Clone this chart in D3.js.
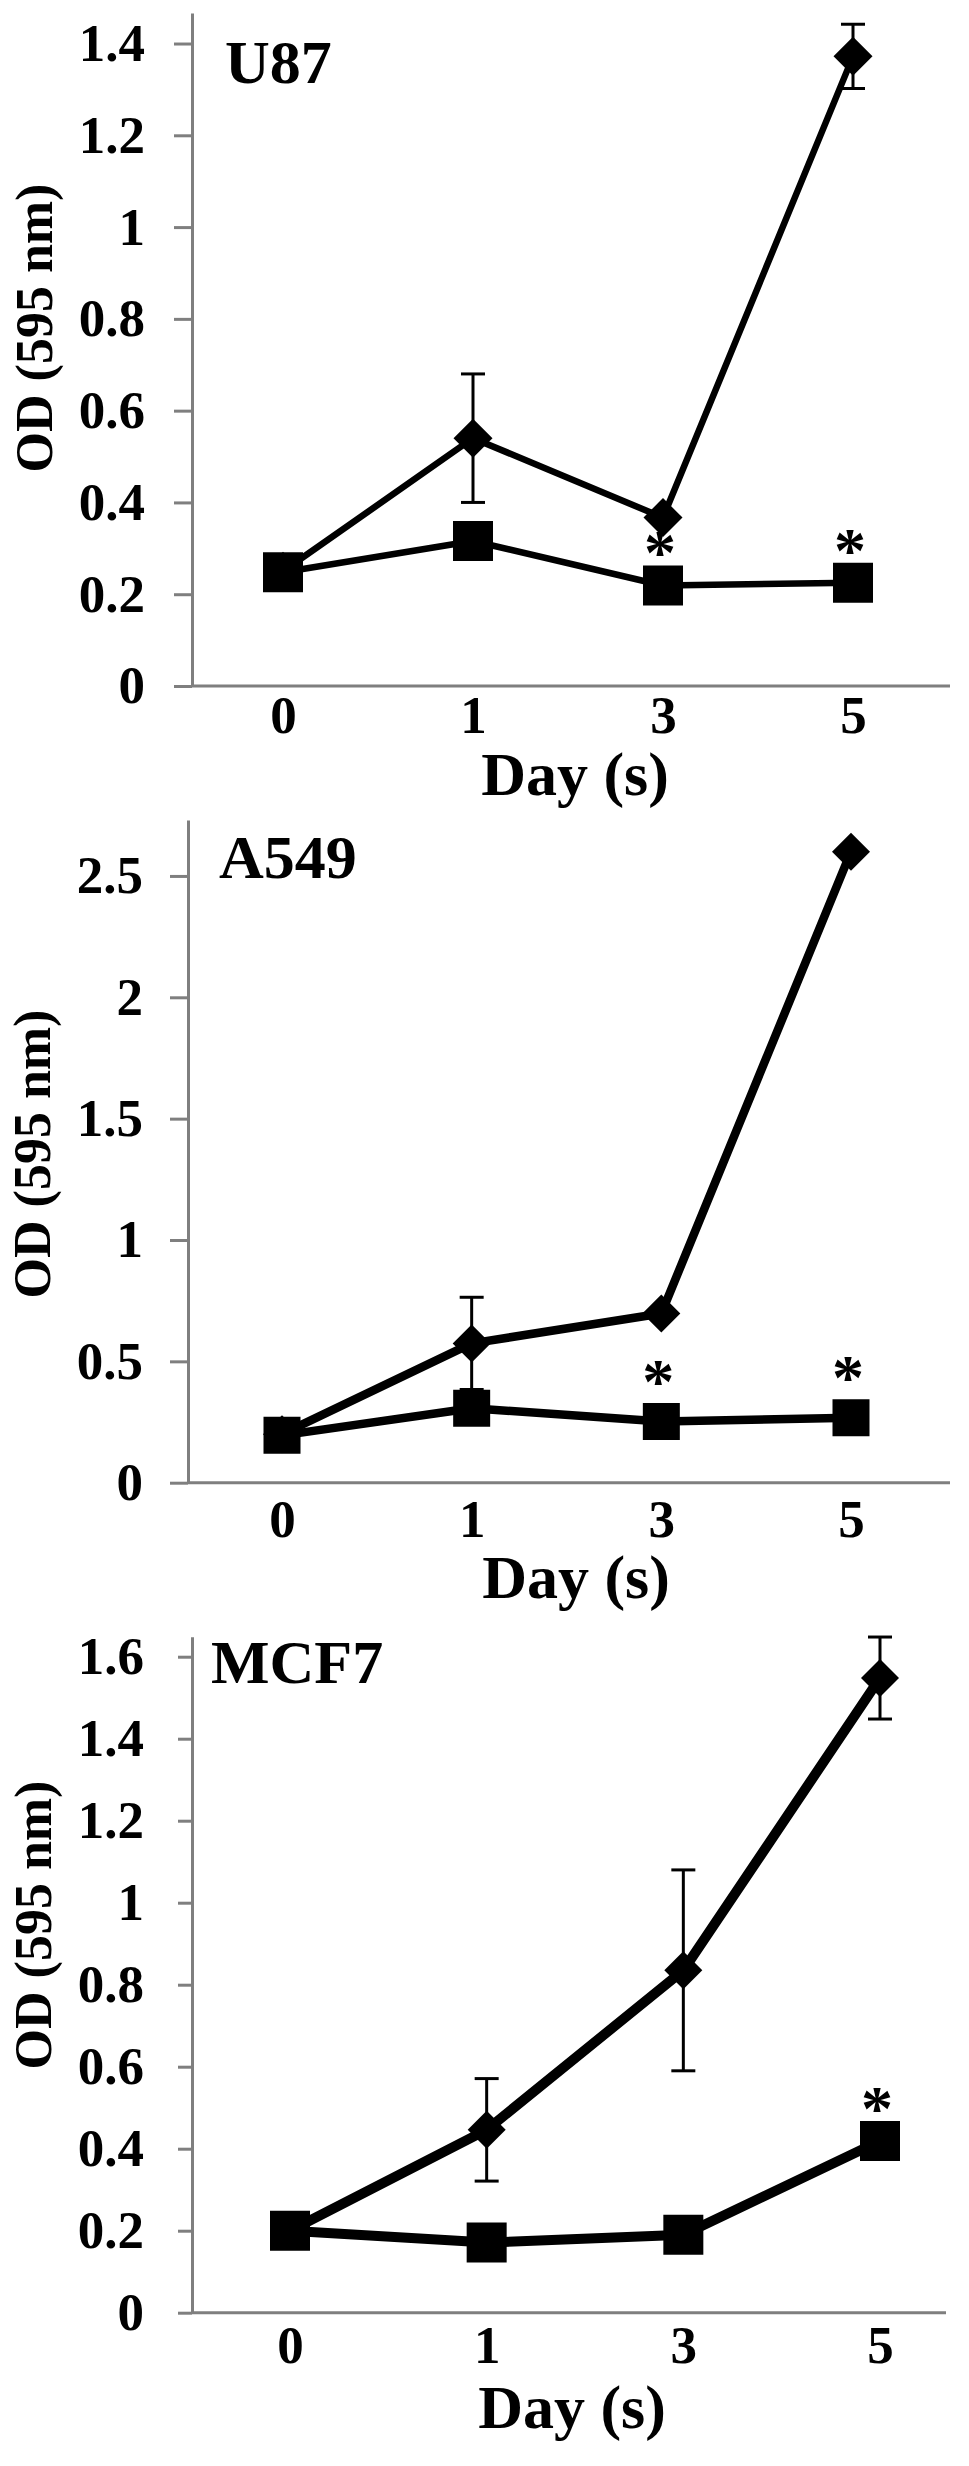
<!DOCTYPE html>
<html>
<head>
<meta charset="utf-8">
<script src="https://cdn.jsdelivr.net/npm/d3@7"></script>
<style>
    body { margin: 0; background: #fff; }
    svg { display: block; }
    text { font-family: "Liberation Serif", "Times New Roman", serif; font-weight: bold; fill: #000; }
</style>
</head>
<body>
<script>
// x categories (days)
const days = ["0", "1", "3", "5"];

// U87
const u87Ticks = [0, 0.2, 0.4, 0.6, 0.8, 1, 1.2, 1.4];
const u87Diamond = [0.25, 0.54, 0.367, 1.372];
const u87DiamondErr = [0, 0.14, 0, 0.07];
const u87Square = [0.248, 0.316, 0.219, 0.225];
const u87Stars = ["3", "5"];

// A549
const a549Ticks = [0, 0.5, 1, 1.5, 2, 2.5];
const a549Diamond = [0.2, 0.574, 0.697, 2.6];
const a549DiamondErr = [0, 0.19, 0, 0];
const a549Square = [0.195, 0.307, 0.252, 0.268];
const a549Stars = ["3", "5"];

// MCF7
const mcf7Ticks = [0, 0.2, 0.4, 0.6, 0.8, 1, 1.2, 1.4, 1.6];
const mcf7Diamond = [0.2, 0.446, 0.835, 1.548];
const mcf7DiamondErr = [0, 0.125, 0.245, 0.1];
const mcf7Square = [0.2, 0.171, 0.19, 0.419];
const mcf7Stars = ["5"];

const width = 969;
const height = 2466;
const axisColor = "#7f7f7f";

const svg = d3.select("body").append("svg")
    .attr("width", width)
    .attr("height", height);

// panel layout (pixel placement only)
const panels = [
    {
        name: "U87", ticks: u87Ticks, yMax: 1.4665,
        diamond: u87Diamond, err: u87DiamondErr, square: u87Square, stars: u87Stars,
        axisX: 192, yBottom: 686, yTop: 13, xFirst: 283, xLast: 853, xEnd: 950,
        tickLen: 18, tickPad: 29, xPad: 9, lineW: 6.5, sq: 40, dia: 39, starGap: 42,
        nameX: 225, nameY: 83, ylabX: 52, ylabY: 328, titleX: 575, titleY: 795
    },
    {
        name: "A549", ticks: a549Ticks, yMax: 2.7305,
        diamond: a549Diamond, err: a549DiamondErr, square: a549Square, stars: a549Stars,
        axisX: 188, yBottom: 1482.7, yTop: 820, xFirst: 282, xLast: 851, xEnd: 950,
        tickLen: 18, tickPad: 27, xPad: 17, lineW: 8.5, sq: 37, dia: 38, starGap: 50,
        nameX: 219, nameY: 878, ylabX: 50, ylabY: 1154, titleX: 576, titleY: 1598
    },
    {
        name: "MCF7", ticks: mcf7Ticks, yMax: 1.6488,
        diamond: mcf7Diamond, err: mcf7DiamondErr, square: mcf7Square, stars: mcf7Stars,
        axisX: 192, yBottom: 2312.7, yTop: 1636.7, xFirst: 290, xLast: 880, xEnd: 946,
        tickLen: 14, tickPad: 34, xPad: 13, lineW: 10, sq: 40, dia: 38, starGap: 42,
        nameX: 211, nameY: 1683, ylabX: 51, ylabY: 1925, titleX: 572, titleY: 2428
    }
];

function drawPanel(p) {
    const g = svg.append("g");

    const x = d3.scalePoint().domain(days).range([p.xFirst, p.xLast]);
    const y = d3.scaleLinear().domain([0, p.yMax]).range([p.yBottom, p.yTop]);

    // y axis
    const yAxis = g.append("g")
        .attr("transform", `translate(${p.axisX},0)`)
        .call(d3.axisLeft(y)
            .tickValues(p.ticks)
            .tickSize(p.tickLen)
            .tickSizeOuter(0)
            .tickPadding(p.tickPad)
            .tickFormat(d => String(+d.toFixed(1))));
    yAxis.select(".domain").attr("stroke", axisColor).attr("stroke-width", 3);
    yAxis.selectAll(".tick line").attr("stroke", axisColor).attr("stroke-width", 3);
    yAxis.selectAll(".tick text")
        .attr("fill", "#000")
        .style("font-size", "53px")
        .style("font-family", "'Liberation Serif', 'Times New Roman', serif")
        .style("font-weight", "bold");

    // x axis: labels only, line drawn separately
    const xAxis = g.append("g")
        .attr("transform", `translate(0,${p.yBottom})`)
        .call(d3.axisBottom(x).tickSize(0).tickPadding(p.xPad));
    xAxis.select(".domain").remove();
    xAxis.selectAll(".tick text")
        .attr("fill", "#000")
        .style("font-size", "53px")
        .style("font-family", "'Liberation Serif', 'Times New Roman', serif")
        .style("font-weight", "bold");

    g.append("line")
        .attr("x1", p.axisX).attr("x2", p.xEnd)
        .attr("y1", p.yBottom).attr("y2", p.yBottom)
        .attr("stroke", axisColor).attr("stroke-width", 3);

    const diamondData = days.map((d, i) => ({day: d, v: p.diamond[i], e: p.err[i]}));
    const squareData = days.map((d, i) => ({day: d, v: p.square[i]}));

    // error bars
    const eb = g.append("g").attr("stroke", "#000").attr("stroke-width", 3);
    diamondData.filter(d => d.e > 0).forEach(d => {
        const cx = x(d.day);
        eb.append("line")
            .attr("x1", cx).attr("x2", cx)
            .attr("y1", y(d.v - d.e)).attr("y2", y(d.v + d.e));
        [d.v - d.e, d.v + d.e].forEach(v => {
            eb.append("line")
                .attr("x1", cx - 12).attr("x2", cx + 12)
                .attr("y1", y(v)).attr("y2", y(v));
        });
    });

    const line = d3.line().x(d => x(d.day)).y(d => y(d.v));

    g.append("path")
        .datum(diamondData)
        .attr("d", line)
        .attr("fill", "none")
        .attr("stroke", "#000")
        .attr("stroke-width", p.lineW)
        .attr("stroke-linejoin", "round");

    const side = p.dia / Math.SQRT2;
    g.selectAll(".diamond")
        .data(diamondData)
        .join("path")
        .attr("class", "diamond")
        .attr("d", d3.symbol(d3.symbolSquare, side * side))
        .attr("transform", d => `translate(${x(d.day)},${y(d.v)}) rotate(45)`)
        .attr("fill", "#000");

    g.append("path")
        .datum(squareData)
        .attr("d", line)
        .attr("fill", "none")
        .attr("stroke", "#000")
        .attr("stroke-width", p.lineW)
        .attr("stroke-linejoin", "round");

    g.selectAll(".square")
        .data(squareData)
        .join("path")
        .attr("class", "square")
        .attr("d", d3.symbol(d3.symbolSquare, p.sq * p.sq))
        .attr("transform", d => `translate(${x(d.day)},${y(d.v)})`)
        .attr("fill", "#000");

    // significance marks
    g.selectAll(".star")
        .data(squareData.filter(d => p.stars.includes(d.day)))
        .join("text")
        .attr("class", "star")
        .attr("x", d => x(d.day) - 3)
        .attr("y", d => y(d.v) - p.starGap + 31)
        .attr("text-anchor", "middle")
        .style("font-size", "64px")
        .text("*");

    // cell line name
    g.append("text")
        .attr("x", p.nameX)
        .attr("y", p.nameY)
        .style("font-size", "62px")
        .text(p.name);

    // axis titles
    g.append("text")
        .attr("transform", `translate(${p.ylabX},${p.ylabY}) rotate(-90)`)
        .attr("text-anchor", "middle")
        .style("font-size", "52px")
        .text("OD (595 nm)");

    g.append("text")
        .attr("x", p.titleX)
        .attr("y", p.titleY)
        .attr("text-anchor", "middle")
        .style("font-size", "62px")
        .text("Day (s)");
}

panels.forEach(drawPanel);
</script>
</body>
</html>
